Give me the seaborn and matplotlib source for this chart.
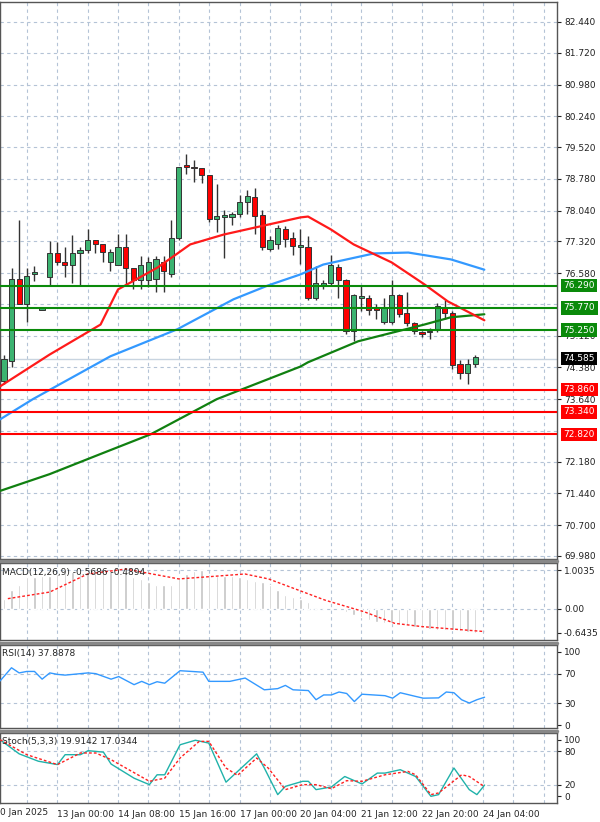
import numpy as np
import pandas as pd
import seaborn as sns
import matplotlib
matplotlib.use("Agg")
import matplotlib.pyplot as plt
import matplotlib.transforms as mtrans

# ---------------- data ----------------
opens  = [74.06,74.52,76.45,75.87,76.55,75.73,76.48,77.04,76.83,76.76,77.04,77.13,77.36,77.27,76.83,76.78,77.20,76.69,76.41,76.41,76.45,76.83,76.55,77.41,79.10,79.06,79.04,78.88,77.85,77.90,77.90,77.97,78.25,78.36,77.94,77.15,77.25,77.62,77.41,77.20,77.20,76.00,76.27,76.36,76.73,76.43,75.22,76.01,76.01,75.78,75.43,75.45,76.06,75.64,75.41,75.20,75.20,75.27,75.80,75.66,74.45,74.24,74.47]
closes = [74.57,76.45,75.87,76.52,76.60,75.74,77.04,76.83,76.76,77.04,77.13,77.36,77.27,77.08,77.08,77.20,76.71,76.41,76.78,76.83,76.90,76.64,77.41,79.06,79.05,79.03,78.86,77.85,77.92,77.91,77.97,78.25,78.39,77.92,77.18,77.36,77.64,77.37,77.22,77.21,76.01,76.36,76.36,76.76,76.43,75.22,76.06,76.02,75.73,75.71,75.76,76.06,75.62,75.41,75.22,75.15,75.24,75.82,75.66,74.43,74.24,74.45,74.62]
highs  = [74.66,76.69,77.83,76.70,76.75,75.76,77.34,77.30,77.18,77.48,77.20,77.62,77.36,77.27,77.15,77.50,77.50,76.69,76.98,76.95,76.97,76.98,77.83,79.06,79.37,79.23,79.04,78.88,78.65,78.06,78.00,78.40,78.53,78.57,78.06,77.45,77.70,77.68,77.55,77.60,77.45,76.75,76.42,77.00,76.80,76.45,76.10,76.27,76.06,75.85,76.00,76.42,76.10,76.15,75.45,75.22,75.30,75.88,75.95,75.70,74.55,74.58,74.68]
lows   = [74.00,74.40,75.85,75.43,76.40,75.72,76.27,76.78,76.50,76.36,76.27,77.06,77.06,76.83,76.62,76.76,76.29,76.20,76.22,76.25,76.13,76.13,76.50,77.35,78.90,78.70,78.69,77.78,77.53,76.94,77.70,77.90,77.95,77.50,77.13,77.10,77.15,77.20,77.00,76.80,75.95,75.95,76.20,76.30,76.00,75.15,75.00,75.69,75.60,75.50,75.40,75.40,75.55,75.35,75.15,75.10,75.05,75.20,75.50,74.35,74.10,73.99,74.40]

ma_red_x  = [-0.5,6,12.7,15,20.2,24.5,28.9,34.7,39,40,43,46,51,55.3,58.4,63.2]
ma_red_y  = [73.94,74.68,75.38,76.2,76.71,77.25,77.48,77.71,77.88,77.9,77.6,77.25,76.83,76.32,75.92,75.48]
ma_blue_x = [-0.5,3.8,14,22.8,30.2,34.7,39,42,48.7,53.2,58.8,63.2]
ma_blue_y = [73.17,73.64,74.64,75.27,75.97,76.29,76.55,76.78,77.04,77.06,76.9,76.66]
ma_grn_x  = [-0.5,6,12.7,19.3,28,39,40,46.6,55.3,58.8,63.2]
ma_grn_y  = [71.5,71.89,72.36,72.82,73.64,74.4,74.5,74.99,75.38,75.55,75.62]

resist_levels = [76.29, 75.77, 75.25]
support_levels = [73.86, 73.34, 72.82]
last_price = 74.585
price_ticks = [82.44,81.72,80.98,80.24,79.52,78.78,78.04,77.32,76.58,75.12,74.38,73.64,72.18,71.44,70.70,69.98]
grid_prices = [82.44,81.72,80.98,80.24,79.52,78.78,78.04,77.32,76.58,75.85,75.12,74.38,73.64,72.90,72.18,71.44,70.70,69.98]

macd_hist_zy = [130,105,90,65,65,60,60,55,50,50,48,48,45,45,45,45,52,65,70,80,88,90,90,65,55,45,42,55,60,60,62,65,70,75,78,90,105,120,125,130,140,160,160,162,165,170,180,185,195,200,205,205,210,210,215,218,222,225,225,225,228,232,235]
macd_sig_x = [0.5,6,11,16,23,27.7,31.7,34.8,42.3,47.4,51.4,55,63.2]
macd_sig_zy = [130,110,55,40,70,62,55,70,135,170,205,215,230]

rsi_zx = [0,30,50,70,90,110,130,150,170,230,250,290,310,350,370,390,410,430,470,530,545,600,640,690,725,745,765,805,825,845,865,885,905,925,945,1005,1025,1045,1085,1105,1145,1165,1185,1205,1225,1245,1265]
rsi_val = [60,78,71,73,73,62.5,71,69,68,71,70,62.5,66,55,59.5,55,59,57,74,72,59.5,59.5,64,48,49.6,54,48,47,34.5,41,41,45,43,32,42,40,36.6,44,39,36.6,37,45,44,34.5,30,34.5,37.9]

stk_zx = [0,50,100,150,170,210,230,270,290,350,390,410,430,470,510,545,590,630,670,690,725,745,790,805,825,865,900,945,985,1005,1045,1085,1125,1145,1185,1225,1245,1265]
stk_k  = [100,75,62,56,73.5,73.5,80.6,78,57,32,20.6,38,38,91,99,94,25,50,75,50,3,17.6,26.5,26.5,11.8,16.5,35,21.8,41,41,47,35,0,3,50,11.8,3,19.9]
std_zx = [0,70,150,210,250,290,390,430,470,520,545,590,620,670,700,745,790,825,865,905,945,1005,1065,1085,1125,1145,1205,1225,1265]
std_d  = [100,73.5,56,76.5,76.5,64.7,26.5,32,67.6,97,97,50,37,67.6,50,11.8,20.6,20.6,13.5,27.6,26.5,38,44,38,3,6,38,35,17.0]

date_idx = [7,15,23,31,39,47,55,63]
date_labels = ["13 Jan 00:00","14 Jan 08:00","15 Jan 16:00","17 Jan 00:00","20 Jan 04:00","21 Jan 12:00","22 Jan 20:00","24 Jan 04:00"]

# ---------------- figure ----------------
sns.set_style("white")
plt.rcParams["font.family"] = "DejaVu Sans"
W, H = 600, 822
fig = plt.figure(figsize=(6, 8.22), dpi=100)
def mkax(top, bot):
    return fig.add_axes([0, 1 - bot / H, 557 / W, (bot - top) / H])
ax = mkax(2, 559)
axm = mkax(563, 640)
axr = mkax(645, 728)
axs = mkax(733, 803)
XL = (-0.53, 72.76)
gridc = "#b4c3d6"
grid_x = [3 + 4 * k for k in range(18)]
for a in (ax, axm, axr, axs):
    a.set_xlim(*XL)
    for g in grid_x:
        a.axvline(g, color=gridc, lw=0.8, ls=(0, (3, 3)), zorder=0)
    a.set_xticks([])
    a.yaxis.tick_right()
    a.tick_params(axis="y", labelsize=6.5, length=3, pad=2, colors="#222222")
    for s in a.spines.values():
        s.set_color("#555555"); s.set_linewidth(1.0)

# main panel
ax.set_ylim(69.91, 82.906)
ax.set_yticks(price_ticks)
ax.set_yticklabels([f"{v:.3f}" for v in price_ticks])
for v in grid_prices:
    ax.axhline(v, color=gridc, lw=0.8, ls=(0, (3, 3)), zorder=0)
idx = np.arange(len(opens))
df = pd.DataFrame({"i": idx, "o": opens, "c": closes, "h": highs, "l": lows})
up = df.c >= df.o
ax.vlines(df.i, df.l, df.h, color="#333333", lw=1, zorder=3)
ax.bar(df.i[up], (df.c - df.o)[up].clip(lower=0.03), bottom=df.o[up], width=0.68,
       color="#3cb371", edgecolor="#333333", lw=0.7, zorder=4)
ax.bar(df.i[~up], (df.o - df.c)[~up].clip(lower=0.03), bottom=df.c[~up], width=0.68,
       color="#ff0000", edgecolor="#333333", lw=0.7, zorder=4)

sns.lineplot(x=ma_grn_x, y=ma_grn_y, ax=ax, color="#108010", lw=1.6, zorder=5)
sns.lineplot(x=ma_blue_x, y=ma_blue_y, ax=ax, color="#3399ff", lw=1.6, zorder=5)
sns.lineplot(x=ma_red_x, y=ma_red_y, ax=ax, color="#ff1a1a", lw=1.6, zorder=5)

tr = mtrans.blended_transform_factory(ax.transAxes, ax.transData)
for v in resist_levels:
    ax.axhline(v, color="#0a8a0a", lw=1.5, zorder=6)
    ax.text(1.012, v, f"{v:.3f}", transform=tr, fontsize=6.5, color="white", va="center",
            bbox=dict(boxstyle="square,pad=0.25", fc="#0a8a0a", ec="none"), zorder=7)
for v in support_levels:
    ax.axhline(v, color="#ff0000", lw=1.5, zorder=6)
    ax.text(1.012, v, f"{v:.3f}", transform=tr, fontsize=6.5, color="white", va="center",
            bbox=dict(boxstyle="square,pad=0.25", fc="#ff0000", ec="none"), zorder=7)
ax.axhline(last_price, color="#c8d4e0", lw=1, zorder=2)
ax.text(1.012, last_price, f"{last_price:.3f}", transform=tr, fontsize=6.5, color="white", va="center",
        bbox=dict(boxstyle="square,pad=0.25", fc="black", ec="none"), zorder=7)

# MACD
k = 0.00867
macd_hist = [(160 - z) * k for z in macd_hist_zy]
macd_sig = [(160 - z) * k for z in macd_sig_zy]
axm.set_ylim(-0.83, 1.2)
axm.set_yticks([1.0035, 0.0, -0.6435]); axm.set_yticklabels(["1.0035", "0.00", "-0.6435"])
for v in [1.0035, 0.0]:
    axm.axhline(v, color=gridc, lw=0.8, ls=(0, (3, 3)), zorder=0)
axm.bar(idx, macd_hist, width=0.3, color="#c4c4c4", zorder=2)
sns.lineplot(x=macd_sig_x, y=macd_sig, ax=axm, color="#ff2020", lw=1, ls=(0, (2, 1.5)), zorder=3)
axm.text(0.003, 0.88, "MACD(12,26,9) -0.5686 -0.4894", transform=axm.transAxes, fontsize=6.5, va="center")

# RSI
axr.set_ylim(-4, 109)
axr.set_yticks([100, 70, 30, 0])
for v in [70, 30]:
    axr.axhline(v, color=gridc, lw=0.8, ls=(0, (3, 3)), zorder=0)
rsi_x = [z / 19.84 - 0.53 for z in rsi_zx]
sns.lineplot(x=rsi_x, y=rsi_val, ax=axr, color="#3399ff", lw=1, zorder=3)
axr.text(0.003, 0.9, "RSI(14) 37.8878", transform=axr.transAxes, fontsize=6.5, va="center")

# Stoch
axs.set_ylim(-11.8, 111.8)
axs.set_yticks([100, 80, 20, 0])
for v in [80, 20]:
    axs.axhline(v, color=gridc, lw=0.8, ls=(0, (3, 3)), zorder=0)
sns.lineplot(x=[z / 19.84 - 0.53 for z in stk_zx], y=stk_k, ax=axs, color="#20b2aa", lw=1, zorder=3)
sns.lineplot(x=[z / 19.84 - 0.53 for z in std_zx], y=std_d, ax=axs, color="#ff2020", lw=1, ls=(0, (2, 1.5)), zorder=3)
axs.text(0.003, 0.88, "Stoch(5,3,3) 19.9142 17.0344", transform=axs.transAxes, fontsize=6.5, va="center")

# separators
for y in [560.5, 642.5, 730.5]:
    fig.add_artist(plt.Line2D([0, 557 / W], [1 - y / H] * 2, color="#888888", lw=2.5))

# date labels
axs.set_xticks(date_idx)
axs.set_xticklabels(date_labels, fontsize=6.5, ha="left")
axs.tick_params(axis="x", length=3, pad=2)
fig.text(0.0, 1 - 812 / H, "0 Jan 2025", fontsize=6.5, va="center")

fig.savefig("out.png", dpi=100)
